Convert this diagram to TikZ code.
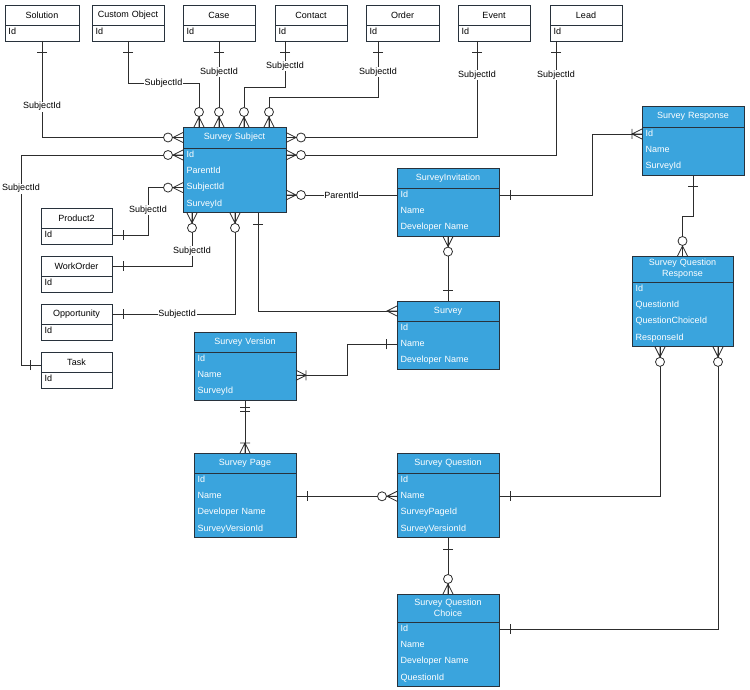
\documentclass[tikz,border=0pt]{standalone}
\usepackage{fontspec}
\setmainfont{Liberation Sans}
\usetikzlibrary{calc}

\definecolor{erblue}{RGB}{58,164,221}
\definecolor{erborder}{RGB}{40,50,60}
\definecolor{erline}{RGB}{45,45,45}
\newcommand{\erfont}{\fontsize{9}{11}\selectfont}

\tikzset{
  blue entity/.style={draw=erborder,fill=erblue,line width=0.9pt,outer sep=0pt,inner sep=0pt},
  blue entity line/.style={draw=erborder,line width=0.9pt},
  blue entity title/.style={text=white,font=\erfont,align=center,inner sep=0pt},
  blue entity field/.style={text=white,font=\erfont,align=left,inner xsep=3.5pt,inner ysep=0pt,
    outer sep=0pt,text height=6.5pt,text depth=1.9pt},
  white entity/.style={draw=erborder,fill=white,line width=0.8pt,outer sep=0pt,inner sep=0pt},
  white entity line/.style={draw=erborder,line width=0.8pt},
  white entity title/.style={text=black,font=\erfont,align=center,inner sep=0pt},
  white entity field/.style={text=black,font=\erfont,align=left,inner xsep=3.5pt,inner ysep=0pt,
    outer sep=0pt,text height=6.5pt,text depth=1.9pt},
  link/.style={draw=erline,line width=0.8pt},
  lbl/.style={fill=white,font=\erfont,inner sep=0.8pt},
  % ER end marks, drawn pointing out of the entity
  pics/many/.style={code={\draw[link] (0,5)--(10,0)--(0,-5) (0,0)--(10,0);}},
  pics/zeromany/.style={code={\draw[link] (0,5)--(10,0)--(0,-5) (0,0)--(10,0);
    \draw[link,fill=white] (15,0) circle[radius=4.5];}},
  pics/onemany/.style={code={\draw[link] (0,5)--(10,0)--(0,-5) (0,0)--(10,0) (10,-5)--(10,5);}},
  pics/one/.style={code={\draw[link] (11,-5)--(11,5);}},
  pics/onlyone/.style={code={\draw[link] (7,-5)--(7,5) (11,-5)--(11,5);}},
}

% \entity[style]{name}{top left}{width}{title height}{title}{fields}
\newcommand{\entity}[7][blue entity]{%
  \foreach \f [count=\n] in {#7} {\xdef\nfields{\n}}%
  \pgfmathsetmacro{\boxh}{#5+16+16.3*(\nfields-1)}%
  \pgfmathsetmacro{\tw}{#4-7}%
  \node[#1,minimum width=#4,minimum height=\boxh,anchor=north west] (#2) at (#3) {};
  \draw[#1 line] ([yshift=-#5]#2.north west) -- ([yshift=-#5]#2.north east);
  \node[#1 title,text width=\tw pt] (#2-t) at ([yshift=-#5/2]#2.north) {#6};
  \foreach \f [count=\i] in {#7}
    \node[#1 field,text width=\tw pt,anchor=west] (#2-\i)
      at ([yshift={-(#5+7+16.3*(\i-1))}]#2.north west) {\f};
}

\begin{document}
\begin{tikzpicture}[x=1pt,y=-1pt]
\useasboundingbox (0,0) rectangle (750,690);

% subjects
\entity[white entity]{sol}{5,5}{74}{20}{Solution}{Id}
\entity[white entity]{co}{92,5}{72}{20}{Custom Object}{Id}
\entity[white entity]{case}{183,5}{72}{20}{Case}{Id}
\entity[white entity]{contact}{275,5}{72}{20}{Contact}{Id}
\entity[white entity]{order}{366,5}{73}{20}{Order}{Id}
\entity[white entity]{event}{458,5}{72}{20}{Event}{Id}
\entity[white entity]{lead}{550,5}{72}{20}{Lead}{Id}
\entity[white entity]{prod}{41,208}{71}{20}{Product2}{Id}
\entity[white entity]{wo}{41,256}{71}{20}{WorkOrder}{Id}
\entity[white entity]{opp}{41,304}{71}{20}{Opportunity}{Id}
\entity[white entity]{task}{41,352}{71}{20}{Task}{Id}

% survey objects
\entity{ss}{183,127}{103}{21}{Survey Subject}{Id,ParentId,SubjectId,SurveyId}
\entity{si}{397,168}{102}{20}{SurveyInvitation}{Id,Name,Developer Name}
\entity{survey}{397,301}{102}{20}{Survey}{Id,Name,Developer Name}
\entity{sr}{642,106}{102}{21}{Survey Response}{Id,Name,SurveyId}
\entity{sqr}{632,256}{101}{26}{Survey Question\\Response}{Id,QuestionId,QuestionChoiceId,ResponseId}
\entity{sv}{194,332}{102}{20}{Survey Version}{Id,Name,SurveyId}
\entity{sp}{194,453}{102}{20}{Survey Page}{Id,Name,Developer Name,SurveyVersionId}
\entity{sq}{397,453}{102}{20}{Survey Question}{Id,Name,SurveyPageId,SurveyVersionId}
\entity{sqc}{397,594}{102}{28}{Survey Question\\Choice}{Id,Name,Developer Name,QuestionId}

% subject links
\draw[link] (sol.south) |- (ss.west |- ss-t) node[lbl,pos=0.34] (l-sol) {SubjectId};
\draw[link] (co.south) -- ++(0,42) -| ([xshift=16pt]ss.north west) node[lbl,pos=0.25] (l-co) {SubjectId};
\draw[link] (case.south) -- (case.south |- ss.north) node[lbl,pos=0.36] (l-case) {SubjectId};
\draw[link] ([xshift=10pt]contact.south west) -- ++(0,46) node[lbl,pos=0.54] (l-contact) {SubjectId}
  -| ([xshift=61pt]ss.north west);
\draw[link] ([xshift=12pt]order.south west) -- ++(0,56) node[lbl,pos=0.55] (l-order) {SubjectId}
  -| ([xshift=86pt]ss.north west);
\draw[link] ([xshift=19pt]event.south west) |- (ss.east |- ss-t) node[lbl,pos=0.176] (l-event) {SubjectId};
\draw[link] ([xshift=6pt]lead.south west) |- (ss-1.east) node[lbl,pos=0.15] (l-lead) {SubjectId};
\draw[link] (ss-1.west) -- ++(-162,0) |- ([yshift=-3pt]task.west |- task-t) node[lbl,pos=0.08] (l-task) {SubjectId};
\draw[link] (ss-3.west) -- ++(-35,0) |- (prod-1.east) node[lbl,pos=0.24] (l-prod) {SubjectId};
\draw[link] ([xshift=9pt]ss.south west) |- (wo.east |- wo-t) node[lbl,pos=0.36] (l-wo) {SubjectId};
\draw[link] ([xshift=52pt]ss.south west) |- (opp.east |- opp-t) node[lbl,pos=0.735] (l-opp) {SubjectId};

\pic[rotate=270] at (sol.south) {one};
\pic[rotate=270] at (co.south) {one};
\pic[rotate=270] at (case.south) {one};
\pic[rotate=270] at ([xshift=10pt]contact.south west) {one};
\pic[rotate=270] at ([xshift=12pt]order.south west) {one};
\pic[rotate=270] at ([xshift=19pt]event.south west) {one};
\pic[rotate=270] at ([xshift=6pt]lead.south west) {one};
\pic at (prod-1.east) {one};
\pic at (wo.east |- wo-t) {one};
\pic at (opp.east |- opp-t) {one};
\pic[rotate=180] at ([yshift=-3pt]task.west |- task-t) {one};
\pic[rotate=180] at (ss.west |- ss-t) {zeromany};
\pic[rotate=180] at (ss-1.west) {zeromany};
\pic[rotate=180] at (ss-3.west) {zeromany};
\foreach \dx in {16,36,61,86}
  \pic[rotate=90] at ([xshift=\dx pt]ss.north west) {zeromany};
\foreach \dx in {9,52}
  \pic[rotate=270] at ([xshift=\dx pt]ss.south west) {zeromany};
\pic at (ss.east |- ss-t) {zeromany};
\pic at (ss-1.east) {zeromany};

% survey links
\draw[link] (si-1.west -| ss.east) -- (si-1.west) node[lbl,pos=0.5] (l-parent) {ParentId};
\pic at (si-1.west -| ss.east) {zeromany};
\draw[link] ([xshift=75pt]ss.south west) |- (survey.west |- survey-t);
\pic[rotate=270] at ([xshift=75pt]ss.south west) {one};
\pic[rotate=180] at (survey.west |- survey-t) {many};
\draw[link] (si.south) -- (survey.north);
\pic[rotate=270] at (si.south) {zeromany};
\pic[rotate=90] at (survey.north) {one};
\draw[link] (si-1.east) -- ++(93,0) |- (sr-1.west);
\pic at (si-1.east) {one};
\pic[rotate=180] at (sr-1.west) {onemany};
\draw[link] (sr.south) -- ++(0,41) -| (sqr.north);
\pic[rotate=270] at (sr.south) {one};
\pic[rotate=90] at (sqr.north) {zeromany};
\draw[link] (survey-2.west) -- ++(-50,0) |- (sv-2.east);
\pic[rotate=180] at (survey-2.west) {one};
\pic at (sv-2.east) {onemany};
\draw[link] (sv.south) -- (sp.north);
\pic[rotate=270] at (sv.south) {onlyone};
\pic[rotate=90] at (sp.north) {onemany};
\draw[link] (sp-2.east) -- (sq-2.west);
\pic at (sp-2.east) {one};
\pic[rotate=180] at (sq-2.west) {zeromany};
\draw[link] (sq-2.east) -| ([xshift=28pt]sqr.south west);
\pic at (sq-2.east) {one};
\pic[rotate=270] at ([xshift=28pt]sqr.south west) {zeromany};
\draw[link] (sq.south) -- (sqc.north);
\pic[rotate=270] at (sq.south) {one};
\pic[rotate=90] at (sqc.north) {zeromany};
\draw[link] (sqc-1.east) -| ([xshift=86pt]sqr.south west);
\pic at (sqc-1.east) {one};
\pic[rotate=270] at ([xshift=86pt]sqr.south west) {zeromany};
\end{tikzpicture}
\end{document}
